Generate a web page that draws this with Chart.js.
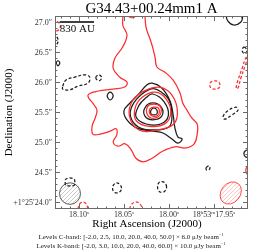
<!DOCTYPE html>
<html><head><meta charset="utf-8">
<script src="https://cdn.jsdelivr.net/npm/chart.js@4/dist/chart.umd.min.js"></script>
<style>html,body{margin:0;padding:0;background:#fff;}#wrap{width:264px;height:252px;}</style>
</head><body><div id="wrap"><canvas id="c" width="264" height="252"></canvas></div>
<script>
// ---------------- data ----------------
const TITLE = 'G34.43+00.24mm1 A';
const X_TITLE = 'Right Ascension (J2000)';
const Y_TITLE = 'Declination (J2000)';
const RA_TICKS = [18.10, 18.05, 18.00, 17.95];
const RA_TICK_LABELS = ['18.10^s', '18.05^s', '18.00^s', '18^h53^m17.95^s'];
const DEC_TICKS = [24.0, 24.5, 25.0, 25.5, 26.0, 26.5, 27.0];
const DEC_TICK_LABELS = ['+1°25′24.0″', '24.5″', '25.0″', '25.5″', '26.0″', '26.5″', '27.0″'];
const RA_RANGE = [17.9122, 18.1267];   // seconds of RA (18h53m..)
const DEC_RANGE = [23.883, 27.10];     // arcsec of Dec (+1°25′..)
const RA0 = 18.0167;                   // reference RA (s) for contour offsets
const DEC0 = 25.50;                    // reference Dec (arcsec) for contour offsets
const C_LEVELS = [-2.0, 2.5, 10.0, 20.0, 40.0, 50.0];
const C_RMS = 6.0;
const K_LEVELS = [-2.0, 3.0, 10.0, 20.0, 40.0, 60.0];
const K_RMS = 10.0;
const C_BEAM = [0.36, 0.35, 0];        // bmaj, bmin (arcsec), PA (deg)
const K_BEAM = [0.40, 0.32, -40];
const SCALE_LABEL = '830 AU';
const SCALE_LEN = 0.57;                // arcsec

// contour paths: [east offset (arcsec), north offset (arcsec)]
const K_3_main = [[0.50,1.73],[0.52,1.45],[0.45,1.28],[0.53,1.07],[0.65,0.90],[0.68,0.73],[0.57,0.58],[0.45,0.50],[0.48,0.42],[0.68,0.38],[0.93,0.35],[1.10,0.28],[1.00,0.12],[0.95,0.03],[0.98,-0.10],[1.03,-0.23],[1.02,-0.37],[0.90,-0.37],[0.73,-0.32],[0.63,-0.28],[0.62,-0.38],[0.68,-0.50],[0.60,-0.57],[0.48,-0.53],[0.38,-0.63],[0.30,-0.77],[0.18,-0.83],[0.03,-0.77],[-0.15,-0.65],[-0.35,-0.58],[-0.53,-0.60],[-0.67,-0.53],[-0.72,-0.37],[-0.72,-0.20],[-0.63,-0.10],[-0.55,0.03],[-0.48,0.15],[-0.43,0.33],[-0.32,0.53],[-0.20,0.65],[-0.05,0.75],[-0.02,0.90],[0.02,1.07],[0.07,1.23],[0.13,1.40],[0.15,1.62],[0.15,1.75]];
const K_3_top = [[0.48,1.72],[0.43,1.60],[0.33,1.58],[0.27,1.72]];
const K_3_right = [[-1.62,-0.85],[-1.55,-0.92],[-1.53,-0.97],[-1.55,-1.03],[-1.62,-1.08]];
const K_10 = [[-0.11,0.41],[-0.30,0.28],[-0.39,0.02],[-0.33,-0.20],[-0.06,-0.30],[0.25,-0.30],[0.41,-0.06],[0.35,0.20],[0.14,0.36]];
const K_20 = [[-0.02,0.33],[-0.20,0.22],[-0.28,0],[-0.19,-0.19],[0.08,-0.24],[0.30,-0.14],[0.31,0.08],[0.19,0.25]];
const K_40 = [[0,0.13],[-0.10,0.10],[-0.12,0],[-0.07,-0.08],[0.05,-0.10],[0.12,-0.02],[0.10,0.10]];
const K_60 = [[0,0.08],[-0.07,0.07],[-0.09,0],[-0.06,-0.06],[0.02,-0.07],[0.07,-0.03],[0.07,0.05]];
const K_neg_a = [[-1.10,0.45],[-1.08,0.50],[-1.02,0.52],[-0.95,0.50],[-0.93,0.45],[-0.95,0.40],[-1.02,0.38],[-1.08,0.40]];
const K_neg_b = [[-1.37,0.40],[-1.40,0.53],[-1.47,0.73],[-1.53,0.90],[-1.57,0.92],[-1.53,0.80],[-1.45,0.57],[-1.40,0.40]];
const K_neg_c = [[1.70,1.52],[1.60,1.50],[1.56,1.43],[1.60,1.36],[1.70,1.35]];
const K_neg_d = [[1.27,-1.70],[1.25,-1.55],[1.18,-1.50],[1.12,-1.55],[1.10,-1.70]];
const K_neg_e = [[0.42,-1.70],[0.38,-1.55],[0.30,-1.50],[0.22,-1.55],[0.18,-1.70]];

const C_2p5_main = [[0.03,0.48],[-0.13,0.40],[-0.27,0.18],[-0.32,-0.05],[-0.35,-0.27],[-0.40,-0.42],[-0.47,-0.45],[-0.40,-0.52],[-0.30,-0.45],[-0.15,-0.35],[0.02,-0.32],[0.28,-0.27],[0.45,-0.13],[0.50,0.02],[0.40,0.15],[0.27,0.28],[0.12,0.45]];
const C_2p5_b = [[0.78,0.27],[0.73,0.33],[0.68,0.27],[0.73,0.20]];
const C_2p5_c = [[1.63,0.82],[1.60,0.85],[1.57,0.82],[1.60,0.77]];
const C_2p5_top = [[-1.20,1.75],[-1.20,1.63],[-1.23,1.52],[-1.33,1.45],[-1.45,1.50],[-1.48,1.60],[-1.47,1.75]];
const C_2p5_right = [[-1.62,-0.60],[-1.52,-0.65],[-1.50,-0.70],[-1.53,-0.75],[-1.62,-0.77]];
const C_10 = [[0.02,0.39],[-0.11,0.34],[-0.25,0.20],[-0.30,-0.06],[-0.25,-0.25],[0.02,-0.30],[0.26,-0.25],[0.39,-0.08],[0.36,0.11],[0.20,0.30]];
const C_20 = [[0.02,0.30],[-0.17,0.17],[-0.24,-0.06],[-0.11,-0.20],[0.13,-0.20],[0.30,-0.08],[0.25,0.11],[0.13,0.24]];
const C_40 = [[0.02,0.15],[-0.13,0.07],[-0.13,-0.07],[0.02,-0.13],[0.15,-0.07],[0.15,0.07]];
const C_50 = [[0,0.07],[-0.05,0.03],[-0.05,-0.03],[0,-0.05],[0.05,-0.03],[0.05,0.03]];
const C_neg_a = [[1.52,0.43],[1.47,0.53],[1.32,0.58],[1.15,0.62],[1.07,0.58],[1.10,0.48],[1.27,0.43],[1.40,0.37],[1.52,0.38]];
const C_neg_b = [[0.97,0.57],[0.92,0.62],[0.87,0.57],[0.92,0.52]];
const C_neg_c = [[1.70,1.28],[1.62,1.25],[1.60,1.17],[1.65,1.10],[1.70,1.08]];
const C_neg_d = [[-1.15,-0.08],[-1.23,0.02],[-1.37,0.08],[-1.40,0.03],[-1.30,-0.05],[-1.18,-0.12]];
const C_neg_e = [[-1.50,1.08],[-1.55,1.03],[-1.52,0.97],[-1.47,1.02]];
const C_neg_f = [[-0.87,-0.93],[-0.92,-0.90],[-0.93,-0.95],[-0.88,-0.97]];
const C_neg_g = [[0.54,-1.27],[0.57,-1.21],[0.62,-1.18],[0.67,-1.21],[0.69,-1.27],[0.67,-1.33],[0.62,-1.35],[0.57,-1.33]];
const C_neg_h = [[-0.21,-1.25],[-0.18,-1.18],[-0.13,-1.16],[-0.08,-1.18],[-0.06,-1.25],[-0.08,-1.32],[-0.13,-1.34],[-0.18,-1.32]];
const C_neg_i = [[1.32,-1.17],[1.33,-1.12],[1.40,-1.10],[1.47,-1.12],[1.48,-1.17],[1.47,-1.22],[1.40,-1.23],[1.33,-1.22]];

// ---------------- styling / assembly ----------------
const RED = '#ff2b2b', BLACK = '#1c1c1c', FRAME = '#6a6a6a', SERIF = '"Liberation Serif", "DejaVu Serif", serif';
const BEAM_POS = {C: [1.40, -1.36], K: [-1.28, -1.35]};
const SCALE_POS = [1.57, 1.50];

function ds(path, color, dashed, closed) {
  return {
    data: path.map(p => ({x: RA0 + p[0] / 15, y: DEC0 + p[1]})),
    showLine: true, borderColor: color, borderWidth: 1.25,
    borderDash: dashed ? [3, 2] : [], pointRadius: 0, pointHoverRadius: 0,
    tension: 0.4, capBezierPoints: false, fill: false, clip: 0, closed: closed
  };
}
const datasets = [
  ds(K_3_main, RED, false, false), ds(K_3_top, RED, false, false), ds(K_3_right, RED, false, false),
  ds(K_10, RED, false, true), ds(K_20, RED, false, true), ds(K_40, RED, false, true), ds(K_60, RED, false, true),
  ds(K_neg_a, RED, true, true), ds(K_neg_b, RED, true, true), ds(K_neg_c, RED, true, false),
  ds(K_neg_d, RED, true, false), ds(K_neg_e, RED, true, false),
  ds(C_2p5_main, BLACK, false, true), ds(C_2p5_b, BLACK, false, true), ds(C_2p5_c, BLACK, false, true),
  ds(C_2p5_top, BLACK, false, false), ds(C_2p5_right, BLACK, false, false),
  ds(C_10, BLACK, false, true), ds(C_20, BLACK, false, true), ds(C_40, BLACK, false, true), ds(C_50, BLACK, false, true),
  ds(C_neg_a, BLACK, true, true), ds(C_neg_b, BLACK, true, true), ds(C_neg_c, BLACK, true, false),
  ds(C_neg_d, BLACK, true, true), ds(C_neg_e, BLACK, true, true), ds(C_neg_f, BLACK, true, true),
  ds(C_neg_g, BLACK, true, true), ds(C_neg_h, BLACK, true, true), ds(C_neg_i, BLACK, true, true)
];

function drawRich(ctx, str, x, y, size, align) {
  const parts = []; let i = 0, buf = '';
  while (i < str.length) {
    if (str[i] === '^') {
      if (buf) parts.push([buf, false]); buf = '';
      if (str[i + 1] === '{') { const j = str.indexOf('}', i); parts.push([str.slice(i + 2, j), true]); i = j + 1; }
      else { parts.push([str[i + 1], true]); i += 2; }
    } else { buf += str[i]; i++; }
  }
  if (buf) parts.push([buf, false]);
  const sup = size * 0.62;
  const f = s => s + 'px ' + SERIF;
  let w = 0;
  parts.forEach(p => { ctx.font = f(p[1] ? sup : size); w += ctx.measureText(p[0]).width; });
  let cx = align === 'center' ? x - w / 2 : align === 'right' ? x - w : x;
  ctx.textAlign = 'left'; ctx.textBaseline = 'alphabetic';
  parts.forEach(p => {
    ctx.font = f(p[1] ? sup : size);
    ctx.fillText(p[0], cx, p[1] ? y - size * 0.4 : y);
    cx += ctx.measureText(p[0]).width;
  });
}

function hatch(ctx, color) {
  const c = document.createElement('canvas'); c.width = 4; c.height = 4;
  const g = c.getContext('2d'); g.strokeStyle = color; g.lineWidth = 0.7;
  g.beginPath(); g.moveTo(0, 4); g.lineTo(4, 0); g.moveTo(-1, 1); g.lineTo(1, -1); g.moveTo(3, 5); g.lineTo(5, 3); g.stroke();
  return ctx.createPattern(c, 'repeat');
}

const loopPlugin = {
  id: 'loopContours',
  afterDatasetUpdate(chart, args) {
    const d = chart.data.datasets[args.index];
    const meta = chart.getDatasetMeta(args.index);
    const line = meta.dataset;
    if (d.closed && line) {
      line._loop = true; line._fullLoop = true; line._pointsUpdated = false;
      delete line._segments; delete line._path;
      if (line.updateControlPoints) line.updateControlPoints(chart.chartArea, 'x');
    }
  }
};

const decorPlugin = {
  id: 'decor',
  beforeDatasetsDraw(chart) {
    const ctx = chart.ctx, sx = chart.scales.x, sy = chart.scales.y, a = chart.chartArea;
    const ppa = Math.abs(sy.getPixelForValue(DEC0 + 1) - sy.getPixelForValue(DEC0));
    ctx.save();
    ctx.beginPath(); ctx.rect(a.left, a.top, a.right - a.left, a.bottom - a.top); ctx.clip();
    [[C_BEAM, BEAM_POS.C, '#b4b4b4', '#5a5a5a'], [K_BEAM, BEAM_POS.K, '#ffb0b0', '#ff4a4a']].forEach(([b, pos, hc, oc]) => {
      const px = sx.getPixelForValue(RA0 + pos[0] / 15), py = sy.getPixelForValue(DEC0 + pos[1]);
      const pa = b[2] * Math.PI / 180;
      const rot = Math.atan2(-Math.cos(pa), -Math.sin(pa));
      ctx.beginPath(); ctx.ellipse(px, py, b[0] / 2 * ppa, b[1] / 2 * ppa, rot, 0, Math.PI * 2);
      ctx.fillStyle = '#fff'; ctx.fill();
      ctx.fillStyle = hatch(ctx, hc); ctx.fill();
      ctx.strokeStyle = oc; ctx.lineWidth = 1; ctx.stroke();
    });
    ctx.restore();
  },
  afterDraw(chart) {
    const ctx = chart.ctx, sx = chart.scales.x, sy = chart.scales.y, a = chart.chartArea;
    const ppa = Math.abs(sy.getPixelForValue(DEC0 + 1) - sy.getPixelForValue(DEC0));
    ctx.save();
    ctx.strokeStyle = FRAME; ctx.lineWidth = 1;
    ctx.strokeRect(Math.round(a.left) + 0.5, Math.round(a.top) + 0.5, Math.round(a.right - a.left) - 1, Math.round(a.bottom - a.top) - 1);
    const seg = (x1, y1, x2, y2) => { ctx.beginPath(); ctx.moveTo(x1, y1); ctx.lineTo(x2, y2); ctx.stroke(); };
    for (let v = Math.ceil(RA_RANGE[0] * 100); v <= Math.floor(RA_RANGE[1] * 100); v++) {
      const val = v / 100, major = RA_TICKS.some(t => Math.abs(t - val) < 1e-6), len = major ? 5 : 2.5;
      const p = Math.round(sx.getPixelForValue(val)) + 0.5;
      seg(p, a.bottom, p, a.bottom - len); seg(p, a.top, p, a.top + len);
    }
    for (let v = Math.ceil(DEC_RANGE[0] * 10); v <= Math.floor(DEC_RANGE[1] * 10); v++) {
      const val = v / 10, major = DEC_TICKS.some(t => Math.abs(t - val) < 1e-6), len = major ? 5 : 2.5;
      const p = Math.round(sy.getPixelForValue(val)) + 0.5;
      seg(a.left, p, a.left + len, p); seg(a.right, p, a.right - len, p);
    }
    ctx.fillStyle = '#333';
    RA_TICKS.forEach((t, i) => drawRich(ctx, RA_TICK_LABELS[i], sx.getPixelForValue(t), a.bottom + 8, 8, 'center'));
    DEC_TICKS.forEach((t, i) => drawRich(ctx, DEC_TICK_LABELS[i], a.left - 3, sy.getPixelForValue(t) + 3, 8, 'right'));
    const bx = sx.getPixelForValue(RA0 + SCALE_POS[0] / 15), by = sy.getPixelForValue(DEC0 + SCALE_POS[1]);
    ctx.strokeStyle = '#000'; ctx.lineWidth = 1.5;
    seg(bx, by, bx + SCALE_LEN * ppa, by);
    ctx.fillStyle = '#111';
    drawRich(ctx, SCALE_LABEL, bx, by + 10, 11, 'left');
    ctx.fillStyle = '#000';
    drawRich(ctx, TITLE, (a.left + a.right) / 2, 13, 15, 'center');
    drawRich(ctx, X_TITLE, 147, 227, 11, 'center');
    ctx.save(); ctx.translate(12, (a.top + a.bottom) / 2); ctx.rotate(-Math.PI / 2);
    drawRich(ctx, Y_TITLE, 0, 0, 11, 'center'); ctx.restore();
    ctx.fillStyle = '#222';
    const lv = (name, L, r) => 'Levels ' + name + ': [' + L.map(v => v.toFixed(1)).join(', ') + '] × ' + r.toFixed(1) + ' μJy beam^{−1}';
    drawRich(ctx, lv('C-band', C_LEVELS, C_RMS), 131, 239, 7, 'center');
    drawRich(ctx, lv('K-band', K_LEVELS, K_RMS), 131, 248, 7, 'center');
    ctx.restore();
  }
};

new Chart(document.getElementById('c'), {
  type: 'scatter',
  data: {datasets},
  options: {
    responsive: false, devicePixelRatio: 1, animation: false,
    layout: {padding: {left: 55, top: 16, right: 16, bottom: 43}},
    plugins: {legend: {display: false}, tooltip: {enabled: false}, title: {display: false}},
    scales: {
      x: {type: 'linear', reverse: true, min: RA_RANGE[0], max: RA_RANGE[1], display: false},
      y: {type: 'linear', min: DEC_RANGE[0], max: DEC_RANGE[1], display: false}
    }
  },
  plugins: [loopPlugin, decorPlugin]
});
</script></body></html>
